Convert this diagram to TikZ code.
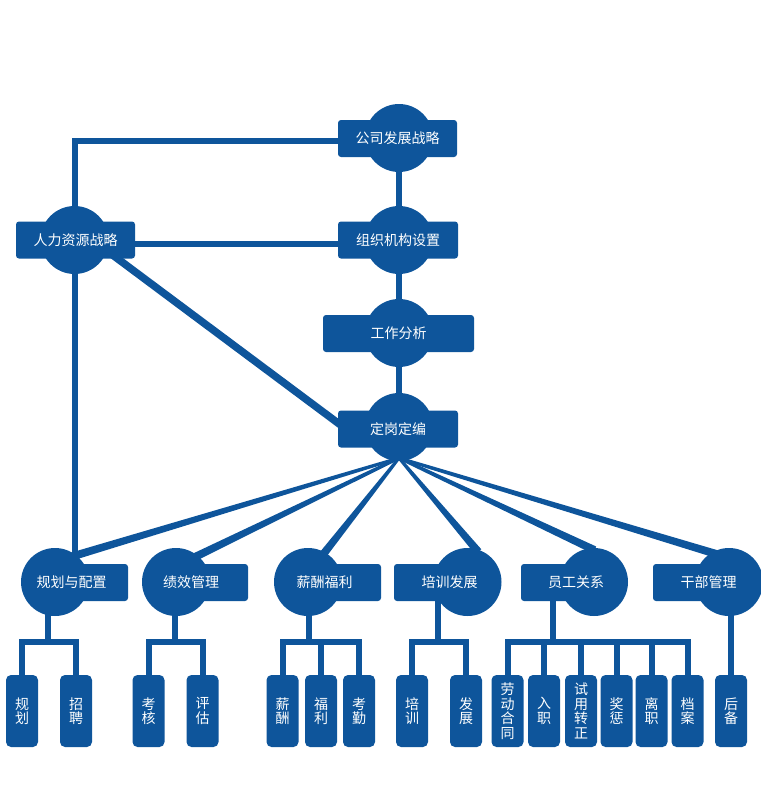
\documentclass[tikz,border=0pt]{standalone}
\usepackage{fontspec}
\newfontfamily\cjk{Noto Sans CJK SC}
\usetikzlibrary{calc,backgrounds}
\definecolor{hrblue}{RGB}{14,85,155}
\newcommand\taperline[4]{\fill[hrblue] ($(#1)!#3!90:(#2)$) -- ($(#1)!#3!-90:(#2)$) -- ($(#2)!#4!90:(#1)$) -- ($(#2)!#4!-90:(#1)$) -- cycle;}
\tikzset{
  lbl/.style={font=\cjk\fontsize{14}{14.5}\selectfont, text=white},
  labbox/.style={fill=hrblue, rounded corners=3pt, minimum width=#1, minimum height=37pt, inner sep=0pt, lbl},
  hubdisc/.style={circle, fill=hrblue, minimum size=68pt, inner sep=0pt},
  leafbox/.style={fill=hrblue, rounded corners=5pt, minimum width=32pt, minimum height=72pt, inner sep=0pt, lbl, align=center},
  conn/.style={draw=hrblue, line width=6pt},
}
\begin{document}
\begin{tikzpicture}[x=1pt,y=-1pt]
\useasboundingbox (0,0) rectangle (760,800);
% top column
\node[hubdisc] (gsc) at (399,138) {};
\node[labbox=119pt] (gs) at (397.5,138.5) {公司发展战略};
\node[hubdisc] (zzc) at (399,240) {};
\node[labbox=120pt] (zz) at (398,240) {组织机构设置};
\node[hubdisc] (gfc) at (399,333) {};
\node[labbox=151pt] (gf) at (398.5,333.5) {工作分析};
\node[hubdisc] (dgc) at (399,427) {};
\node[labbox=120pt] (dg) at (398,429) {定岗定编};
\node[hubdisc] (hrc) at (74.5,240) {};
\node[labbox=119pt] (hr) at (75.5,240) {人力资源战略};
% second level
\node[hubdisc] (g1c) at (55,582) {};
\node[labbox=73pt] (g1) at (91.5,582.5) {};
\node[lbl] (g1t) at (71.5,582.5) {规划与配置};
\node[hubdisc] (g2c) at (176,582) {};
\node[labbox=72pt] (g2) at (212,582.5) {};
\node[lbl] (g2t) at (191,582.5) {绩效管理};
\node[hubdisc] (g3c) at (308,582) {};
\node[labbox=73pt] (g3) at (344.5,582.5) {};
\node[lbl] (g3t) at (324.5,582.5) {薪酬福利};
\node[hubdisc] (g4c) at (467.5,582) {};
\node[labbox=73.5pt] (g4) at (430.75,582.5) {};
\node[lbl] (g4t) at (449.5,582.5) {培训发展};
\node[hubdisc] (g5c) at (594,582) {};
\node[labbox=73pt] (g5) at (557.5,582.5) {};
\node[lbl] (g5t) at (576,582.5) {员工关系};
\node[hubdisc] (g6c) at (729,582) {};
\node[labbox=76pt] (g6) at (691,582.5) {};
\node[lbl] (g6t) at (708.5,582.5) {干部管理};
% leaves
\node[leafbox] (l11) at (22,711) {规\\划};
\node[leafbox] (l12) at (76,711) {招\\聘};
\node[leafbox] (l21) at (148.5,711) {考\\核};
\node[leafbox] (l22) at (202.5,711) {评\\估};
\node[leafbox] (l31) at (282.5,711) {薪\\酬};
\node[leafbox] (l32) at (321,711) {福\\利};
\node[leafbox] (l33) at (359,711) {考\\勤};
\node[leafbox] (l41) at (412,711) {培\\训};
\node[leafbox] (l42) at (466,711) {发\\展};
\node[leafbox] (l51) at (507.5,711) {劳\\动\\合\\同};
\node[leafbox] (l52) at (544,711) {入\\职};
\node[leafbox] (l53) at (581,711) {试\\用\\转\\正};
\node[leafbox] (l54) at (616.5,711) {奖\\惩};
\node[leafbox] (l55) at (651.5,711) {离\\职};
\node[leafbox] (l56) at (687.5,711) {档\\案};
\node[leafbox] (l61) at (731,711) {后\\备};
% connectors
\begin{pgfonlayer}{background}
\draw[conn] ([yshift=-2.5pt]gs.center) -| (hrc);
\draw[conn] ([yshift=-4pt]hr.center) -- ([yshift=-4pt]zz.center);
\draw[conn] (gsc) -- (zzc) -- (gfc) -- (dgc);
\draw[draw=hrblue, line width=7.5pt] ([xshift=17pt]hr.center) -- ([xshift=-44pt,yshift=-6pt]dg.center);
\draw[conn] (hrc) -- (hrc |- g1c);
% fan
\coordinate (fo) at ([yshift=-31pt]dgc.center);
\coordinate (e1a) at ($(g1c)+(22,-27)$);
\coordinate (e2a) at ($(g2c)+(21,-26)$);
\coordinate (e3a) at ($(g3c)+(17,-30)$);
\coordinate (e4a) at ($(g4c)+(7.5,-34)$);
\coordinate (e5a) at ($(g5c)+(-4,-34)$);
\coordinate (e6a) at ($(g6c)+(-16,-29)$);
\foreach \i in {1,...,6}{
  \coordinate (e\i) at ($(e\i a)!-5pt!(fo)$);
  \taperline{fo}{e\i}{1.5pt}{4pt}
}
% hubs to leaves
\coordinate (h1) at (48,642);
\coordinate (h2) at (174.5,642);
\coordinate (h3) at (309,642);
\coordinate (h4) at (438,642);
\coordinate (h5) at (553,642);
\draw[conn] (h1 |- g1c) -- (h1);
\draw[conn] (l11.north) |- (h1) -| (l12.north);
\draw[conn] (h2 |- g2c) -- (h2);
\draw[conn] (l21.north) |- (h2) -| (l22.north);
\draw[conn] (h3 |- g3c) -- (h3);
\draw[conn] (l31.north) |- (h3) -| (l33.north);
\draw[conn] (l32.north) -- (l32.north |- h3);
\draw[conn] (h4 |- g4) -- (h4);
\draw[conn] (l41.north) |- (h4) -| (l42.north);
\draw[conn] (h5 |- g5) -- (h5);
\draw[conn] (l51.north) |- (h5) -| (l56.north);
\foreach \k in {52,53,54,55}{
  \draw[conn] (l\k.north) -- (l\k.north |- h5);
}
\draw[conn] (l61.north) -- (l61.north |- g6c);
\end{pgfonlayer}
\end{tikzpicture}
\end{document}
